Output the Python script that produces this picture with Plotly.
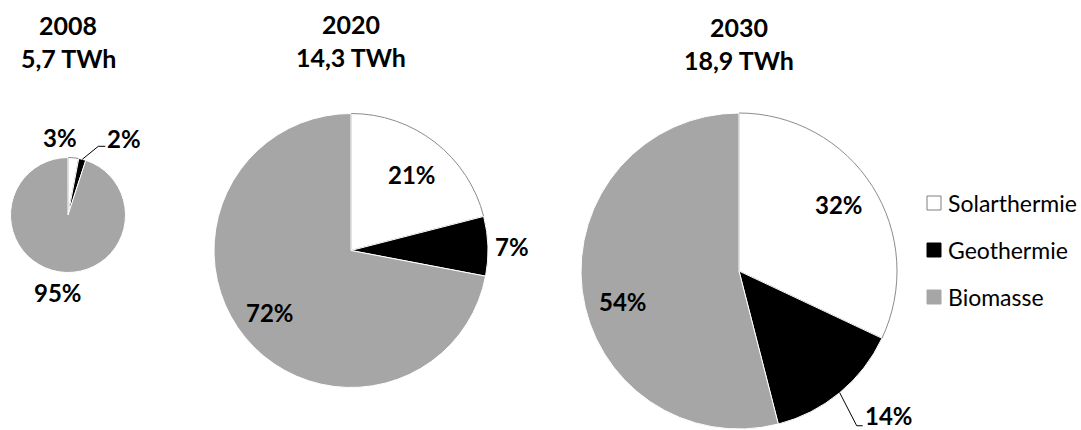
import math
import plotly.graph_objects as go

# ---------------- data ----------------
categories = ["Solarthermie", "Geothermie", "Biomasse"]
years = ["2008", "2020", "2030"]
totals_twh = ["5,7", "14,3", "18,9"]
shares_2008 = [3, 2, 95]
shares_2020 = [21, 7, 72]
shares_2030 = [32, 14, 54]
shares = [shares_2008, shares_2020, shares_2030]

# ---------------- style / layout ----------------
W, H = 1081, 430
FONT = "Lato"
fill_colors = ["#ffffff", "#000000", "#a6a6a6"]
edge_colors = ["#8c8c8c", "#ffffff", "#ffffff"]

# pie geometry in pixels: centre x, centre y, radius
geom = [(68, 215, 57.5), (351, 250.5, 137), (739, 271, 158)]
# title lines (pixel y of the two lines)
title_y = [(25, 58), (24, 57), (27, 60)]

# label placement per pie / slice
placement = [
    [dict(k=1.36, nudge=(-15, 0)), dict(leader=(16, -13, 7)), dict(k=1.36, nudge=(2, 0))],
    [dict(k=0.71, nudge=(1, 1)), dict(k=1.0, nudge=(5, 0), anchor="left"), dict(k=0.75, nudge=(-2, -3))],
    [dict(k=0.76, nudge=(-1, -2)), dict(leader=(17, 33, 6)), dict(k=0.76, nudge=(3, 15))],
]


def px(x):
    return x / W


def py(y):
    return 1 - y / H


fig = go.Figure()
annotations = []
shapes = []

for i, (vals, (cx, cy, r)) in enumerate(zip(shares, geom)):
    fig.add_trace(go.Pie(
        labels=categories,
        values=vals,
        sort=False,
        direction="clockwise",
        rotation=0,
        textinfo="none",
        hoverinfo="label+percent",
        marker=dict(colors=fill_colors, line=dict(color=edge_colors, width=1)),
        domain=dict(x=[px(cx - r), px(cx + r)], y=[py(cy + r), py(cy - r)]),
        showlegend=False,
    ))
    # titles
    annotations.append(dict(text=f"<b>{years[i]}</b>", x=px(cx), y=py(title_y[i][0]),
                            xref="paper", yref="paper", showarrow=False,
                            xanchor="center", yanchor="middle",
                            font=dict(family=FONT, size=25, color="black")))
    annotations.append(dict(text=f"<b>{totals_twh[i]} TWh</b>", x=px(cx), y=py(title_y[i][1]),
                            xref="paper", yref="paper", showarrow=False,
                            xanchor="center", yanchor="middle",
                            font=dict(family=FONT, size=25, color="black")))
    # percentage labels
    total = sum(vals)
    cum = 0
    for j, v in enumerate(vals):
        mid = (cum + v / 2) / total * 2 * math.pi
        cum += v
        spec = placement[i][j]
        sx, sy = math.sin(mid), -math.cos(mid)
        label = f"<b>{v}%</b>"
        if "leader" in spec:
            ddx, ddy, hl = spec["leader"]
            x0, y0 = cx + r * sx, cy + r * sy
            x1, y1 = x0 + ddx, y0 + ddy
            x2 = x1 + hl
            shapes.append(dict(type="path", xref="paper", yref="paper",
                               path=f"M {px(x0)},{py(y0)} L {px(x1)},{py(y1)} L {px(x2)},{py(y1)}",
                               line=dict(color="black", width=1)))
            ly = min(y1 - 8, H - 15)
            annotations.append(dict(text=label, x=px(x2 + 1), y=py(ly),
                                    xref="paper", yref="paper", showarrow=False,
                                    xanchor="left", yanchor="middle", borderpad=0,
                                    font=dict(family=FONT, size=24, color="black")))
        else:
            k = spec["k"]
            nx, ny = spec.get("nudge", (0, 0))
            lx, ly = cx + k * r * sx + nx, cy + k * r * sy + ny
            annotations.append(dict(text=label, x=px(lx), y=py(ly),
                                    xref="paper", yref="paper", showarrow=False,
                                    xanchor=spec.get("anchor", "center"), yanchor="middle",
                                    font=dict(family=FONT, size=24, color="black")))

# legend (custom, to match the wide row spacing)
leg_x, leg_y0, leg_step, box = 927, 203, 47, 14
leg_edges = ["#7f7f7f", "#000000", "#a6a6a6"]
for j, name in enumerate(categories):
    yc = leg_y0 + j * leg_step
    shapes.append(dict(type="rect", xref="paper", yref="paper",
                       x0=px(leg_x), x1=px(leg_x + box), y0=py(yc + box / 2), y1=py(yc - box / 2),
                       fillcolor=fill_colors[j], line=dict(color=leg_edges[j], width=1)))
    annotations.append(dict(text=name, x=px(leg_x + box + 5), y=py(yc),
                            xref="paper", yref="paper", showarrow=False,
                            xanchor="left", yanchor="middle",
                            font=dict(family=FONT, size=23, color="black")))

fig.update_layout(
    width=W, height=H,
    margin=dict(l=0, r=0, t=0, b=0),
    paper_bgcolor="white", plot_bgcolor="white",
    showlegend=False,
    annotations=annotations,
    shapes=shapes,
)

fig.write_html("out.html")
